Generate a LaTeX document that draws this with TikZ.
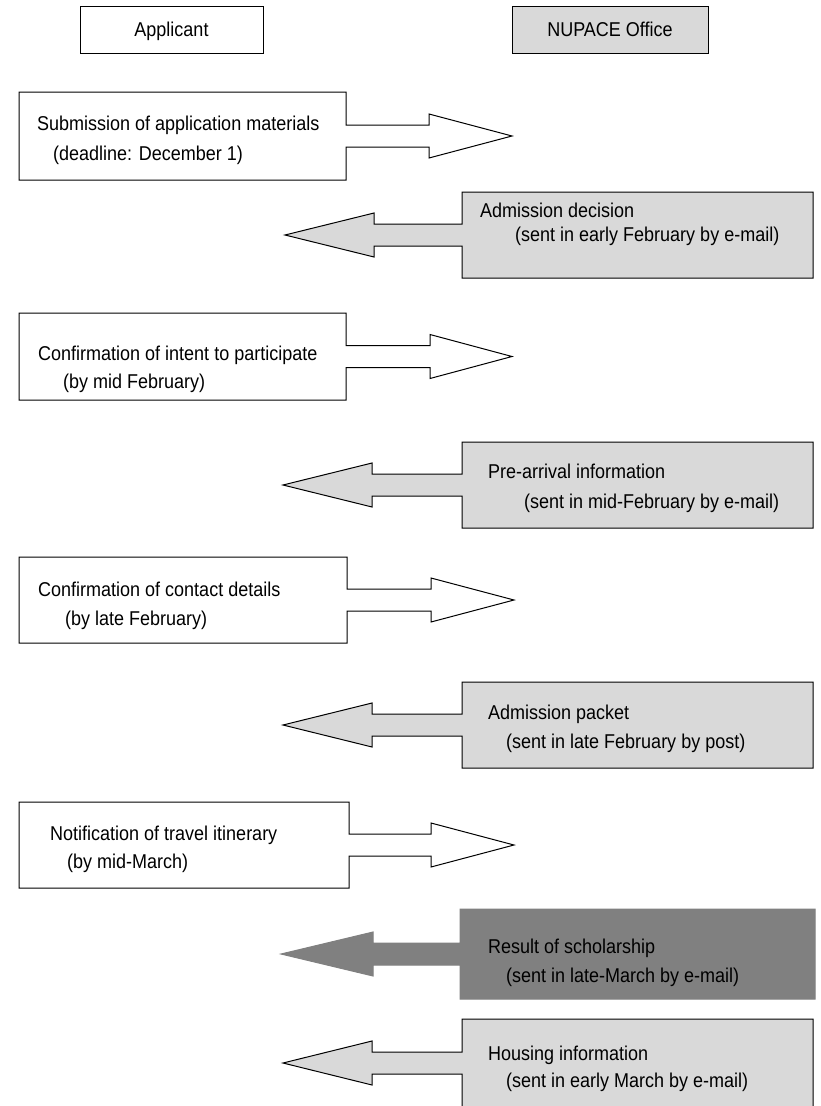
\documentclass[tikz,border=0pt]{standalone}
\usepackage{fontspec}
\setmainfont{Liberation Sans}[FakeStretch=0.9]
\definecolor{lightbox}{HTML}{D9D9D9}
\definecolor{darkbox}{HTML}{808080}
\tikzset{
  txt/.style={font=\fontsize{20}{24}\selectfont, inner sep=0pt, text height=14.3pt, text depth=0pt, anchor=west},
  outline/.style={draw=black, line width=1pt, line join=miter},
  head/.style={outline, minimum width=183pt, minimum height=47pt, inner sep=0pt, text height=14.3pt, text depth=0pt, font=\fontsize{20}{24}\selectfont}
}
% applicant callout: left, right, top, bottom, tip x, head base x
\newcommand{\appcallout}[6]{%
  \pgfmathsetmacro{\cy}{(#3+#4)/2}%
  \filldraw[outline, fill=white] (#1,#3) -- (#2,#3) -- (#2,\cy-11) -- (#6,\cy-11) -- (#6,\cy-22)
    -- (#5,\cy) -- (#6,\cy+22) -- (#6,\cy+11) -- (#2,\cy+11) -- (#2,#4) -- (#1,#4) -- cycle;}
% office callout: left, right, top, bottom, tip x, head base x, fill, draw colour
\newcommand{\offcallout}[8]{%
  \pgfmathsetmacro{\cy}{(#3+#4)/2}%
  \filldraw[line width=1pt, line join=miter, fill=#7, draw=#8] (#2,#3) -- (#1,#3) -- (#1,\cy-11) -- (#6,\cy-11) -- (#6,\cy-22)
    -- (#5,\cy) -- (#6,\cy+22) -- (#6,\cy+11) -- (#1,\cy+11) -- (#1,#4) -- (#2,#4) -- cycle;}
\begin{document}
\begin{tikzpicture}[x=1pt,y=-1pt]
\clip (0,0) rectangle (820,1106);
\fill[white] (0,0) rectangle (820,1106);

% headers
\node[head, fill=white] (applicant) at (171.5,29.5) {Applicant};
\node[head, fill=lightbox, minimum width=196pt] (nupace) at (610,29.5) {NUPACE Office};

% row 1
\appcallout{19}{346}{92}{180}{512}{429}
\node[txt] (r1a) at (37,123) {Submission of application materials};
\node[txt] (r1b) at (53,153) {(deadline: December 1)};

% row 2
\offcallout{462}{813}{192}{278}{285}{374}{lightbox}{black}
\node[txt] (r2a) at (480,210) {Admission decision};
\node[txt] (r2b) at (515,234) {(sent in early February by e-mail)};

% row 3
\appcallout{19}{346}{313}{400}{512}{430}
\node[txt] (r3a) at (38,353) {Confirmation of intent to participate};
\node[txt] (r3b) at (63,381) {(by mid February)};

% row 4
\offcallout{462}{813}{442}{528}{283}{372}{lightbox}{black}
\node[txt] (r4a) at (488,471) {Pre-arrival information};
\node[txt] (r4b) at (524,501) {(sent in mid-February by e-mail)};

% row 5
\appcallout{19}{347}{557}{643}{514}{431}
\node[txt] (r5a) at (38,589) {Confirmation of contact details};
\node[txt] (r5b) at (65,618) {(by late February)};

% row 6
\offcallout{462}{813}{682}{768}{283}{372}{lightbox}{black}
\node[txt] (r6a) at (488,712) {Admission packet};
\node[txt] (r6b) at (506,741) {(sent in late February by post)};

% row 7
\appcallout{19}{349}{802}{888}{514}{431}
\node[txt] (r7a) at (50,833) {Notification of travel itinerary};
\node[txt] (r7b) at (67,861) {(by mid-March)};

% row 8
\offcallout{460}{815}{909}{999}{281}{373}{darkbox}{darkbox}
\node[txt] (r8a) at (488,946) {Result of scholarship};
\node[txt] (r8b) at (506,975) {(sent in late-March by e-mail)};

% row 9
\offcallout{462}{813}{1019}{1107}{283}{372}{lightbox}{black}
\node[txt] (r9a) at (488,1053) {Housing information};
\node[txt] (r9b) at (506,1080) {(sent in early March by e-mail)};
\end{tikzpicture}
\end{document}
